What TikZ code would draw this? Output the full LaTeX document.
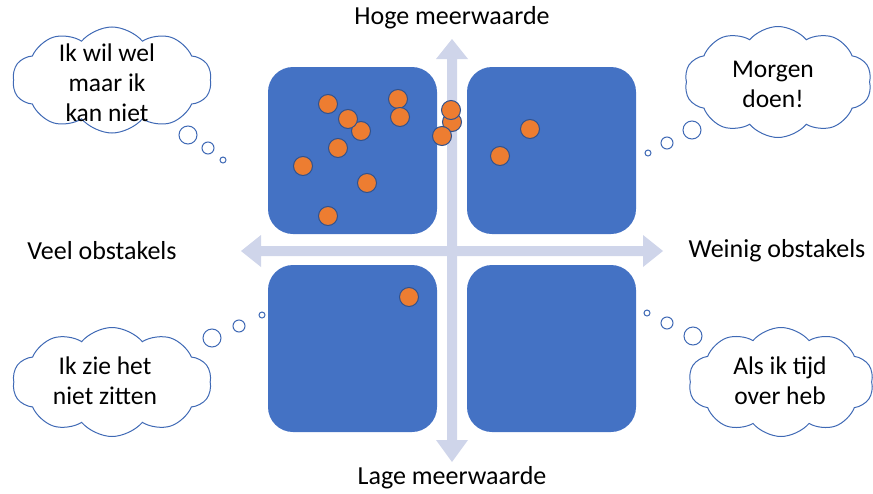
\documentclass[tikz,border=0pt]{standalone}
\usepackage{fontspec}
\setmainfont{Carlito}
\usetikzlibrary{shapes.symbols}
\definecolor{boxblue}{HTML}{4472C4}
\definecolor{dotorange}{HTML}{ED7D31}
\definecolor{dotedge}{HTML}{2F528F}
\definecolor{axiscol}{HTML}{CFD5EA}
\definecolor{cloudedge}{HTML}{3F69B5}
\begin{document}
\begin{tikzpicture}[x=1pt,y=-1pt,
  quad/.style={fill=boxblue, rounded corners=25pt},
  dot/.style={circle, fill=dotorange, draw=dotedge, line width=1pt, minimum size=19pt, inner sep=0pt},
  thought/.style={cloud, cloud puffs=10, cloud puff arc=100, cloud ignores aspect, draw=cloudedge, line width=1pt, fill=white, inner sep=0pt},
  bubble/.style={circle, draw=cloudedge, line width=1pt, inner sep=0pt, fill=white},
  lbl/.style={font=\fontsize{26}{30}\selectfont, text=black, inner sep=0pt},
  ctext/.style={font=\fontsize{25.5}{30}\selectfont, align=center, inner sep=0pt, text=black}]
\useasboundingbox (0,0) rectangle (873,493);
% axes
\fill[axiscol] (447,59) -- (436,59) -- (452,39) -- (468,59) -- (457,59) -- (457,440) -- (468,440) -- (452,462) -- (436,440) -- (447,440) -- cycle;
\fill[axiscol] (261,246) -- (261,235) -- (241,251) -- (261,267) -- (261,256) -- (643,256) -- (643,267) -- (663,251) -- (643,235) -- (643,246) -- cycle;
% quadrants
\fill[quad] (268,67) rectangle (437,234);
\fill[quad] (467,67) rectangle (636,234);
\fill[quad] (268,265) rectangle (437,432);
\fill[quad] (467,265) rectangle (636,432);
% dots
\node[dot] (d1) at (328,104) {};
\node[dot] (d2) at (361,131) {};
\node[dot] (d3) at (348,119) {};
\node[dot] (d4) at (338,148) {};
\node[dot] (d5) at (303,166) {};
\node[dot] (d6) at (367,183) {};
\node[dot] (d7) at (328,216) {};
\node[dot] (d8) at (398,99) {};
\node[dot] (d9) at (400,117) {};
\node[dot] (d10) at (452,122) {};
\node[dot] (d11) at (451,110) {};
\node[dot] (d12) at (442,136) {};
\node[dot] (d13) at (530,129) {};
\node[dot] (d14) at (500,156) {};
\node[dot] (d15) at (409,297) {};
% labels
\node[lbl] (top) at (452,18) {Hoge meerwaarde};
\node[lbl] (bot) at (452,478) {Lage meerwaarde};
\node[lbl] (left) at (102,251) {Veel obstakels};
\node[lbl] (right) at (777,251) {Weinig obstakels};
% clouds
\node[thought, minimum width=199pt, minimum height=106pt] (c1) at (112,80) {};
\node[ctext] (t1) at (107,83) {Ik wil wel\\maar ik\\kan niet};
\node[bubble, minimum size=18pt] (b1a) at (188,135) {};
\node[bubble, minimum size=12pt] (b1b) at (208,148) {};
\node[bubble, minimum size=6pt] (b1c) at (223,160) {};

\node[thought, minimum width=187pt, minimum height=111pt] (c2) at (778,82) {};
\node[ctext] (t2) at (773,84) {Morgen\\doen!};
\node[bubble, minimum size=18pt] (b2a) at (692,130) {};
\node[bubble, minimum size=12pt] (b2b) at (667,143) {};
\node[bubble, minimum size=6pt] (b2c) at (648,153) {};

\node[thought, minimum width=199pt, minimum height=109pt] (c3) at (112,382) {};
\node[ctext] (t3) at (105,381) {Ik zie het\\niet zitten};
\node[bubble, minimum size=18pt] (b3a) at (212,338) {};
\node[bubble, minimum size=12pt] (b3b) at (239,326) {};
\node[bubble, minimum size=6pt] (b3c) at (262,315) {};

\node[thought, minimum width=185pt, minimum height=109pt] (c4) at (781,382) {};
\node[ctext] (t4) at (780,381) {Als ik tijd\\over heb};
\node[bubble, minimum size=18pt] (b4a) at (693,336) {};
\node[bubble, minimum size=12pt] (b4b) at (667,323) {};
\node[bubble, minimum size=6pt] (b4c) at (647,313) {};
\end{tikzpicture}
\end{document}
